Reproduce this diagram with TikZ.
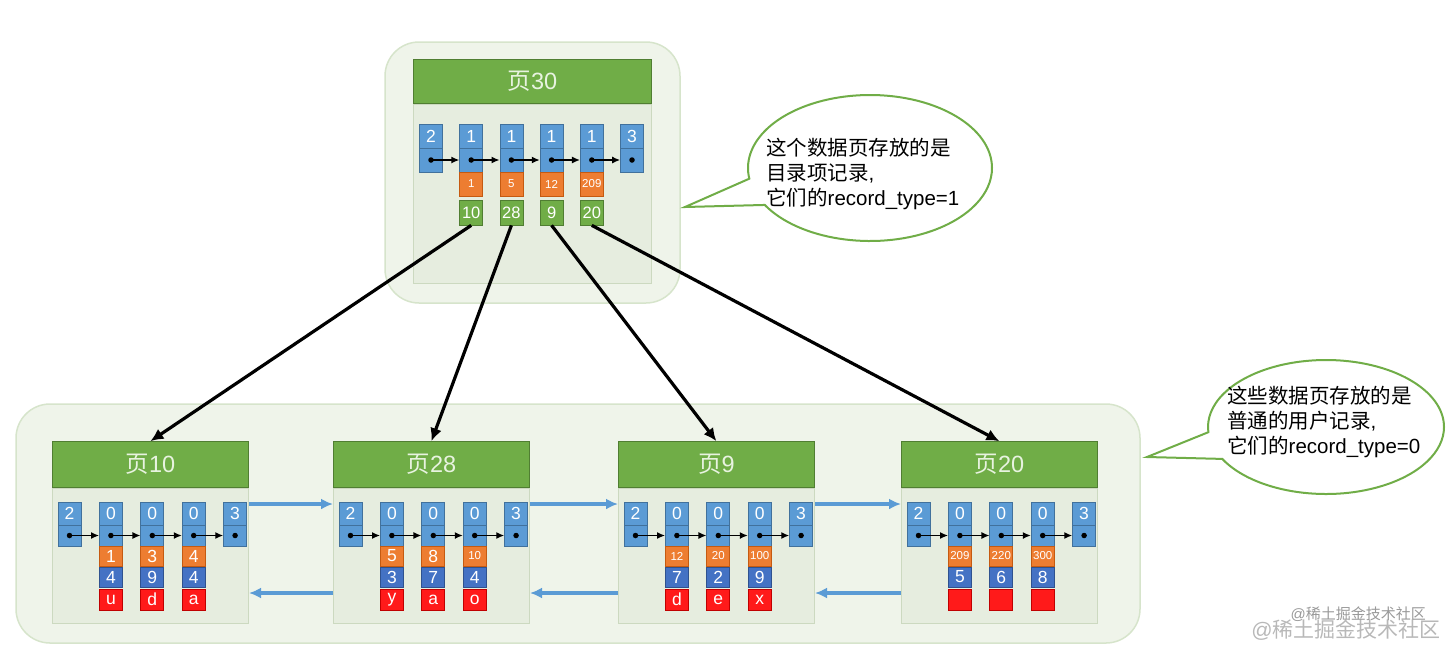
\documentclass[tikz,border=0pt]{standalone}
\usepackage{fontspec}
\setmainfont{Liberation Sans}
\newfontfamily\cjk{Noto Sans CJK SC}
\usetikzlibrary{arrows.meta,shapes.callouts}
\definecolor{lblue}{HTML}{5B9BD5}
\definecolor{lblueD}{HTML}{41719C}
\definecolor{orng}{HTML}{ED7D31}
\definecolor{orngD}{HTML}{C55A11}
\definecolor{dblue}{HTML}{4472C4}
\definecolor{dblueD}{HTML}{2F528F}
\definecolor{redc}{HTML}{FF1A1A}
\definecolor{redD}{HTML}{C00000}
\definecolor{grn}{HTML}{70AD47}
\definecolor{grnD}{HTML}{507E32}
\definecolor{outerF}{HTML}{EFF4EA}
\definecolor{outerD}{HTML}{D6E4CB}
\definecolor{bodyF}{HTML}{E6EDDF}
\definecolor{bodyD}{HTML}{CCD9C0}
\definecolor{hdrtxt}{HTML}{E8F3E0}
\newcommand{\smn}[1]{{\fontsize{11.5}{12}\selectfont #1}}
\tikzset{
  cell/.style={rectangle, inner sep=0pt, minimum width=23pt, text=white,
    font=\fontsize{17.5}{17.5}\selectfont, line width=0.7pt},
  bluecell/.style={cell, fill=lblue, draw=lblueD},
  orangecell/.style={cell, fill=orng, draw=orngD, text=white},
  dbluecell/.style={cell, fill=dblue, draw=dblueD},
  redcell/.style={cell, fill=redc, draw=redD},
  greencell/.style={cell, fill=grn, draw=grnD, font=\fontsize{16.5}{16.5}\selectfont},
  outerbox/.style={draw=outerD, fill=outerF, line width=1.5pt, rounded corners=34pt},
  pagebody/.style={rectangle, draw=bodyD, fill=bodyF, line width=1pt, inner sep=0pt},
  pagehdr/.style={rectangle, draw=grnD, fill=grn, line width=0.8pt, inner sep=0pt,
    text=hdrtxt, font=\fontsize{23.5}{23.5}\selectfont},
  linkarrow/.style={black, line width=1.4pt, -{Latex[length=8pt,width=7pt]}},
  childarrow/.style={black, line width=3.2pt, -{Latex[length=13pt,width=12pt]}},
  siblingarrow/.style={lblue, line width=3.2pt, -{Latex[length=12pt,width=11pt]}},
  bubble/.style={ellipse callout, draw=grn, fill=white, line width=2pt,
    inner sep=0pt},
  bubbletext/.style={align=left, anchor=north west, inner sep=0pt,
    font=\fontsize{20.5}{25}\selectfont},
  dotmark/.style={circle, fill=black, inner sep=0pt, minimum size=5.5pt},
}
\begin{document}
\begin{tikzpicture}[x=1pt,y=-1pt]
\useasboundingbox (0,0) rectangle (1446,649);
% ---------- outer boxes ----------
\path[outerbox] (385,42) rectangle (680,303);
\path[outerbox] (16,404) rectangle (1140,643);

% ---------- top page 30 ----------
\node[pagebody, anchor=north west, minimum width=238pt, minimum height=179pt] (p30b) at (413,104) {};
\node[pagehdr, anchor=south west, minimum width=238pt, minimum height=44pt] (p30h) at (413,104) {{\cjk 页}30};
\foreach \i/\k in {1/2,2/1,3/1,4/1,5/1,6/3}{
  \pgfmathsetmacro{\cx}{431+40.2*(\i-1)}
  \node[bluecell, minimum height=24pt] (t\i n) at (\cx,136) {\k};
  \node[bluecell, minimum height=24pt] (t\i d) at (\cx,160) {};
}
\foreach \i/\o/\g in {2/1/10,3/5/28,4/12/9,5/209/20}{
  \pgfmathsetmacro{\cx}{431+40.2*(\i-1)}
  \node[orangecell, minimum height=24pt] (t\i o) at (\cx,184) {\smn{\o}};
  \node[greencell, minimum height=25pt] (t\i g) at (\cx,212.5) {\g};
}
\foreach \i [evaluate=\i as \j using int(\i+1)] in {1,...,5}{
  \draw[linkarrow] (t\i d.center) -- (t\j d.west);
  \node[dotmark] (t\i dot) at (t\i d.center) {};
}
\node[dotmark] (t6dot) at (t6d.center) {};

% ---------- leaf pages ----------
\foreach \nm/\lx/\ttl/\oa/\ob/\oc/\ba/\bb/\bc/\ra/\rb/\rc in {
  10/52/10/1/3/4/4/9/4/u/d/a,
  28/333/28/5/8/\smn{10}/3/7/4/y/a/o,
  9/618/9/\smn{12}/\smn{20}/\smn{100}/7/2/9/d/e/x,
  20/901/20/\smn{209}/\smn{220}/\smn{300}/5/6/8/{}/{}/{}}{
  \node[pagebody, anchor=north west, minimum width=196pt, minimum height=135pt] (p\nm b) at (\lx,488) {};
  \node[pagehdr, anchor=south west, minimum width=196pt, minimum height=46pt] (p\nm h) at (\lx,488) {{\cjk 页}\ttl};
  \foreach \i/\k in {1/2,2/0,3/0,4/0,5/3}{
    \pgfmathsetmacro{\cx}{\lx+17.5+41.4*(\i-1)}
    \node[bluecell, minimum height=23pt] (p\nm c\i n) at (\cx,513.5) {\k};
    \node[bluecell, minimum height=21pt] (p\nm c\i d) at (\cx,535.5) {};
  }
  \foreach \i/\o/\b/\r in {2/\oa/\ba/\ra,3/\ob/\bb/\rb,4/\oc/\bc/\rc}{
    \pgfmathsetmacro{\cx}{\lx+17.5+41.4*(\i-1)}
    \node[orangecell, minimum height=20pt] (p\nm c\i o) at (\cx,556) {\o};
    \node[dbluecell, minimum height=20pt] (p\nm c\i b) at (\cx,577) {\b};
    \node[redcell, minimum height=21pt] (p\nm c\i r) at (\cx,599.5) {\r};
  }
  \foreach \i [evaluate=\i as \j using int(\i+1)] in {1,...,4}{
    \draw[linkarrow] (p\nm c\i d.center) -- (p\nm c\j d.west);
    \node[dotmark] (p\nm c\i dot) at (p\nm c\i d.center) {};
  }
  \node[dotmark] (p\nm c5dot) at (p\nm c5d.center) {};
}

% ---------- child pointers ----------
\draw[childarrow] (t2g.south) -- (p10h.north);
\draw[childarrow] (t3g.south) -- (p28h.north);
\draw[childarrow] (t4g.south) -- (p9h.north);
\draw[childarrow] (t5g.south) -- (p20h.north);

% ---------- sibling pointers ----------
\draw[siblingarrow] ([yshift=-16pt]p10b.north east) -- ([yshift=-16pt]p28b.north west);
\draw[siblingarrow] ([yshift=-16pt]p28b.north east) -- ([yshift=-16pt]p9b.north west);
\draw[siblingarrow] ([yshift=-16pt]p9b.north east) -- ([yshift=-16pt]p20b.north west);
\draw[siblingarrow] ([yshift=-105pt]p28b.north west) -- ([yshift=-105pt]p10b.north east);
\draw[siblingarrow] ([yshift=-105pt]p9b.north west) -- ([yshift=-105pt]p28b.north east);
\draw[siblingarrow] ([yshift=-105pt]p20b.north west) -- ([yshift=-105pt]p9b.north east);

% ---------- callouts ----------
\coordinate (tip1) at (685,207);
\node[bubble, minimum width=244pt, minimum height=146pt, callout absolute pointer={(tip1)}, callout pointer arc=22] (c1) at (870,168) {};
\node[bubbletext] (c1t) at (766,138) {{\cjk 这个数据页存放的是}\\{\cjk 目录项记录}{,}\\{\cjk 它们的}record\_type=1};
\coordinate (tip2) at (1147,457);
\node[bubble, minimum width=236pt, minimum height=134pt, callout absolute pointer={(tip2)}, callout pointer arc=24] (c2) at (1326,427) {};
\node[bubbletext] (c2t) at (1227,386) {{\cjk 这些数据页存放的是}\\{\cjk 普通的用户记录}{,}\\{\cjk 它们的}record\_type=0};

% ---------- watermark ----------
\node[text=black!28, font=\fontsize{21}{21}\selectfont, anchor=east, inner sep=0pt] (wm1) at (1441,630) {@{\cjk 稀土掘金技术社区}};
\node[text=black!40, font=\fontsize{15}{15}\selectfont, anchor=east, inner sep=0pt] (wm2) at (1426,614) {@{\cjk 稀土掘金技术社区}};
\end{tikzpicture}
\end{document}
